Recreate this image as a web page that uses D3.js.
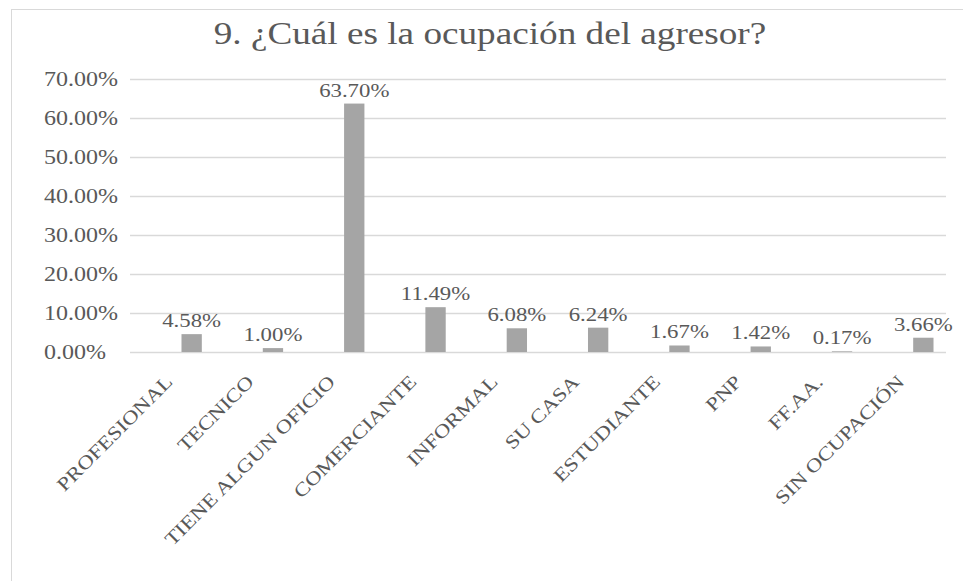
<!DOCTYPE html>
<html>
<head>
<meta charset="utf-8">
<script src="https://cdn.jsdelivr.net/npm/d3@7"></script>
<style>
  body { margin: 0; background: #fff; }
  svg text { font-family: "Liberation Serif", "DejaVu Serif", "Times New Roman", Times, serif; fill: #595959; }
</style>
</head>
<body>
<script>
const categories = ["PROFESIONAL", "TECNICO", "TIENE ALGUN OFICIO", "COMERCIANTE", "INFORMAL",
    "SU CASA", "ESTUDIANTE", "PNP", "FF.AA.", "SIN OCUPACIÓN"];
const values = [4.58, 1.00, 63.70, 11.49, 6.08, 6.24, 1.67, 1.42, 0.17, 3.66];
const yTicks = [0, 10, 20, 30, 40, 50, 60, 70];

const width = 963, height = 581;
const stretch = 1.2; // the picture is a bit wider than tall, so text is widened too

const svg = d3.select("body").append("svg")
    .attr("width", width)
    .attr("height", height);

// chart border
svg.append("rect")
    .attr("x", 11.5).attr("y", 9.5)
    .attr("width", 980).attr("height", 600)
    .attr("fill", "none")
    .attr("stroke", "#d9d9d9");

//title
svg.append("text")
    .attr("transform", `translate(490, 44) scale(${stretch}, 1)`)
    .attr("text-anchor", "middle")
    .style("font-size", "31px")
    .text("9. ¿Cuál es la ocupación del agresor?");

//scales
const xScale = d3.scaleBand()
    .domain(categories)
    .range([151, 964])
    .paddingInner(0.75)
    .paddingOuter(0.375);

const yScale = d3.scaleLinear()
    .domain([0, 70])
    .range([352, 79]);

//gridlines
svg.append("g").selectAll("line")
    .data(yTicks)
    .enter()
    .append("line")
    .attr("x1", 130).attr("x2", 946)
    .attr("y1", d => yScale(d) + 0.5)
    .attr("y2", d => yScale(d) + 0.5)
    .attr("stroke", "#d9d9d9")
    .attr("stroke-width", 1.5);

//y labels
svg.append("g").selectAll("text")
    .data(yTicks)
    .enter()
    .append("text")
    .attr("transform", d => `translate(44, ${yScale(d) + 7}) scale(${stretch}, 1)`)
    .style("font-size", "20px")
    .text(d => d.toFixed(2) + "%");

//bars
svg.append("g").selectAll("rect")
    .data(values)
    .enter()
    .append("rect")
    .attr("x", (d, i) => xScale(categories[i]))
    .attr("y", d => yScale(d))
    .attr("width", xScale.bandwidth())
    .attr("height", d => yScale(0) - yScale(d))
    .attr("fill", "#a5a5a5");

//value labels
svg.append("g").selectAll("text")
    .data(values)
    .enter()
    .append("text")
    .attr("transform", (d, i) => {
        const cx = xScale(categories[i]) + xScale.bandwidth() / 2;
        return `translate(${cx}, ${yScale(d) - 7}) scale(${stretch}, 1)`;
    })
    .attr("text-anchor", "middle")
    .style("font-size", "19px")
    .text(d => d.toFixed(2) + "%");

//category labels
svg.append("g").selectAll("text")
    .data(categories)
    .enter()
    .append("text")
    .attr("text-anchor", "end")
    .attr("transform", d => {
        const cx = xScale(d) + xScale.bandwidth() / 2;
        return `translate(${cx - 18}, ${yScale(0) + 31}) rotate(-45) scale(${stretch}, 1)`;
    })
    .style("font-size", "19px")
    .text(d => d);
</script>
</body>
</html>
